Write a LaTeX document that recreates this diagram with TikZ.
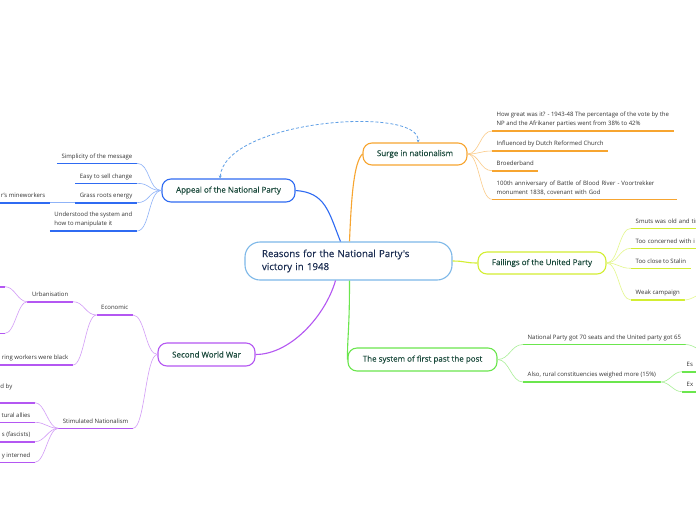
\documentclass[tikz,border=0pt]{standalone}
\usepackage{fontspec}
\setmainfont{Open Sans}
\newfontfamily\semi{Open Sans}[FakeBold=0.35]
\usepackage{xcolor}
\usepackage{tikz}
\usetikzlibrary{arrows.meta}

\definecolor{npblue}{HTML}{2F6BF2}
\definecolor{npbluel}{HTML}{8FB3F8}
\definecolor{nporange}{HTML}{F7A530}
\definecolor{nporangel}{HTML}{FBCB88}
\definecolor{npyellow}{HTML}{D3EE32}
\definecolor{npyellowl}{HTML}{E4F78C}
\definecolor{npgreen}{HTML}{6BE64E}
\definecolor{npgreenl}{HTML}{A9EF97}
\definecolor{nppurple}{HTML}{B457F2}
\definecolor{nppurplel}{HTML}{D39DF7}
\definecolor{npcentre}{HTML}{7DB8E8}
\definecolor{npdash}{HTML}{5F9FE6}
\definecolor{nptitle}{HTML}{1C2E52}
\definecolor{nptopic}{HTML}{1B4A3C}
\definecolor{nptext}{HTML}{333333}

\begin{document}
\begin{tikzpicture}[x=1pt,y=-1pt,
  topic/.style={draw,line width=1.1pt,rounded corners=9pt,inner sep=0pt,text=nptopic,font=\semi\fontsize{8}{9}\selectfont},
  para/.style={inner xsep=4.5pt,inner ysep=3.5pt,text=nptext,align=left,font=\fontsize{6}{9}\selectfont},
  item/.style={para,text depth=1.5pt},
  ul/.style={line width=1.6pt},
  twig/.style={line width=0.6pt},
  limb/.style={line width=1.1pt}]
\path [fill=white,use as bounding box] (0,0) rectangle (696,520);
%
\node (c) at (348.5,261) [draw=npcentre,line width=1.1pt,rounded corners=15pt,minimum width=207pt,minimum height=38pt,text width=173pt,align=left,inner sep=0pt,text=nptitle,font=\semi\fontsize{9.7}{13}\selectfont] {Reasons for the National Party's\\victory in 1948};
%
\node (appeal) at (228.5,190.5) [topic,draw=npblue,minimum width=133pt,minimum height=23pt] {Appeal of the National Party};
\node (surge) at (415,154) [topic,draw=nporange,minimum width=104pt,minimum height=22pt] {Surge in nationalism};
\node (fail) at (542,263) [topic,draw=npyellow,minimum width=128pt,minimum height=22pt] {Failings of the United Party};
\node (fptp) at (422.5,359.5) [topic,draw=npgreen,minimum width=149pt,minimum height=23pt] {The system of first past the post};
\node (sww) at (206.5,354.5) [topic,draw=nppurple,minimum width=97pt,minimum height=23pt] {Second World War};
%
\draw [limb,npblue] (appeal.east) .. controls +(30,2) and +(-12,-30) .. ([xshift=-8pt]c.north);
\draw [limb,nporange] ([xshift=1pt]c.north) .. controls +(2,-50) and +(-8,8) .. (surge.west);
\draw [limb,npyellow] (c.east) .. controls +(13,0) and +(-13,0) .. (fail.west);
\draw [limb,npgreen] ([xshift=1pt]c.south) .. controls +(0,50) and +(0,-25) .. (fptp.west);
\draw [limb,nppurple] ([xshift=-13pt]c.south) .. controls +(-10,35) and +(35,0) .. (sww.east);
%%
\draw [npdash,line width=0.8pt,dash pattern=on 3pt off 2pt,{Stealth[length=3pt,width=3pt]}-{Stealth[length=3pt,width=3pt]}] ([xshift=-8.5pt]appeal.north) .. controls +(5,-59) and +(2,-37) .. ([xshift=3pt]surge.north);
%%
\node (a1) at (137,163.3) [item,anchor=south east] {Simplicity of the message};
\node (a2) at (137,183.3) [item,anchor=south east] {Easy to sell change};
\node (a3) at (137,202.7) [item,anchor=south east] {Grass roots energy};
\node (a4) at (137,231) [para,anchor=south east] {Understood the system and\\how to manipulate it};
\node (a5) at (50,202.7) [item,anchor=south east] {r's mineworkers};
%
\draw [ul,npblue] (a1.south west) -- (a1.south east);
\draw [ul,npblue] (a2.south west) -- (a2.south east);
\draw [ul,npblue] (a3.south west) -- (a3.south east);
\draw [ul,npblue] (a4.south west) -- (a4.south east);
\draw [ul,npblue] (a5.south west) -- (a5.south east);
\draw [twig,npbluel] (appeal.west) .. controls +(-13,0) and +(13,0) .. (a1.south east);
\draw [twig,npbluel] (appeal.west) .. controls +(-13,0) and +(13,0) .. (a2.south east);
\draw [twig,npbluel] (appeal.west) .. controls +(-13,0) and +(13,0) .. (a3.south east);
\draw [twig,npbluel] (appeal.west) .. controls +(-13,0) and +(13,0) .. (a4.south east);
\draw [twig,npbluel] (a3.south west) -- (a5.south east);
%%
\node (s1) at (492,131) [para,anchor=south west] {How great was it? - 1943-48 The percentage of the vote by the\\NP and the Afrikaner parties went from 38\% to 42\%};
\node (s2) at (492,151) [item,anchor=south west] {Influenced by Dutch Reformed Church};
\node (s3) at (492,170.7) [item,anchor=south west] {Broederband};
\node (s4) at (492,199.3) [para,anchor=south west,text width=176pt] {100th anniversary of Battle of Blood River - Voortrekker\\monument 1838, covenant with God};
%
\draw [ul,nporange] (s1.south west) -- (s1.south east);
\draw [ul,nporange] (s2.south west) -- (s2.south east);
\draw [ul,nporange] (s3.south west) -- (s3.south east);
\draw [ul,nporange] (s4.south west) -- (s4.south east);
\draw [twig,nporangel] (surge.east) .. controls +(12,0) and +(-12,0) .. (s1.south west);
\draw [twig,nporangel] (surge.east) .. controls +(12,0) and +(-12,0) .. (s2.south west);
\draw [twig,nporangel] (surge.east) .. controls +(12,0) and +(-12,0) .. (s3.south west);
\draw [twig,nporangel] (surge.east) .. controls +(12,0) and +(-12,0) .. (s4.south west);
%%
\node (f1) at (631,228.3) [item,anchor=south west,text width=75pt] {Smuts was old and tir};
\node (f2) at (631,248.3) [item,anchor=south west,text width=75pt] {Too concerned with i};
\node (f3) at (631,268.3) [item,anchor=south west] {Too close to Stalin};
\node (f4) at (631,300) [item,anchor=south west] {Weak campaign};
\coordinate (f4x) at (708,292);
%
\draw [ul,npyellow] (f1.south west) -- (f1.south east);
\draw [ul,npyellow] (f2.south west) -- (f2.south east);
\draw [ul,npyellow] (f3.south west) -- (f3.south east);
\draw [ul,npyellow] (f4.south west) -- (f4.south east);
\draw [twig,npyellowl] (fail.east) .. controls +(12,0) and +(-12,0) .. (f1.south west);
\draw [twig,npyellowl] (fail.east) .. controls +(12,0) and +(-12,0) .. (f2.south west);
\draw [twig,npyellowl] (fail.east) .. controls +(12,0) and +(-12,0) .. (f3.south west);
\draw [twig,npyellowl] (fail.east) .. controls +(12,0) and +(-12,0) .. (f4.south west);
\draw [twig,npyellowl] (f4.south east) .. controls +(8,0) and +(-8,0) .. (f4x);
%%
\node (p1) at (523,344.5) [item,anchor=south west] {National Party got 70 seats and the United party got 65};
\node (p2) at (523,382) [item,anchor=south west] {Also, rural constituencies weighed more (15\%)};
\node (e1) at (682,371.7) [item,anchor=south west,text width=40pt] {Es};
\node (e2) at (682,391.7) [item,anchor=south west,text width=40pt] {Ex};
\coordinate (p1x) at (708,352);
%
\draw [ul,npgreen] (p1.south west) -- (p1.south east);
\draw [ul,npgreen] (p2.south west) -- (p2.south east);
\draw [ul,npgreen] (e1.south west) -- (e1.south east);
\draw [ul,npgreen] (e2.south west) -- (e2.south east);
\draw [twig,npgreenl] (fptp.east) .. controls +(12,0) and +(-12,0) .. (p1.south west);
\draw [twig,npgreenl] (fptp.east) .. controls +(12,0) and +(-12,0) .. (p2.south west);
\draw [twig,npgreenl] (p2.south east) .. controls +(9,0) and +(-9,0) .. (e1.south west);
\draw [twig,npgreenl] (p2.south east) .. controls +(9,0) and +(-9,0) .. (e2.south west);
\draw [twig,npgreenl] (p1.south east) .. controls +(8,0) and +(-8,0) .. (p1x);
%%
\node (w1) at (133,315) [item,anchor=south east] {Economic};
\node (w2) at (133,428.3) [item,anchor=south east] {Stimulated Nationalism};
\node (w11) at (73,301.7) [item,anchor=south east] {Urbanisation};
\node (w12) at (73,365) [item,anchor=south east] {ring workers were black};
\coordinate (u1) at (5,286.7);
\coordinate (u2) at (5,333.3);
\coordinate (g1) at (35,402.7);
\node (g1t) at (12.5,386.7) [item,anchor=east,inner sep=0pt] {d by};
\node (g2) at (35,422.3) [item,anchor=south east] {tural allies};
\node (g3) at (35,441.7) [item,anchor=south east] {s (fascists)};
\node (g4) at (35,462.3) [item,anchor=south east] {y interned};
%
\draw [ul,nppurple] (w1.south west) -- (w1.south east);
\draw [ul,nppurple] (w2.south west) -- (w2.south east);
\draw [ul,nppurple] (w11.south west) -- (w11.south east);
\draw [ul,nppurple] (w12.south west) -- (w12.south east);
\draw [ul,nppurple] (u1) -- ++(-10,0);
\draw [ul,nppurple] (u2) -- ++(-10,0);
\draw [ul,nppurple] (g1) -- ++(-40,0);
\draw [ul,nppurple] (g2.south west) -- (g2.south east);
\draw [ul,nppurple] (g3.south west) -- (g3.south east);
\draw [ul,nppurple] (g4.south west) -- (g4.south east);
\draw [twig,nppurplel] (sww.west) .. controls +(-12,0) and +(12,0) .. (w1.south east);
\draw [twig,nppurplel] (sww.west) .. controls +(-12,0) and +(12,0) .. (w2.south east);
\draw [twig,nppurplel] (w1.south west) .. controls +(-11,0) and +(11,0) .. (w11.south east);
\draw [twig,nppurplel] (w1.south west) .. controls +(-11,0) and +(11,0) .. (w12.south east);
\draw [twig,nppurplel] (w11.south west) .. controls +(-10,0) and +(10,0) .. (u1);
\draw [twig,nppurplel] (w11.south west) .. controls +(-10,0) and +(10,0) .. (u2);
\draw [twig,nppurplel] (w2.south west) .. controls +(-10,0) and +(10,0) .. (g1);
\draw [twig,nppurplel] (w2.south west) .. controls +(-10,0) and +(10,0) .. (g2.south east);
\draw [twig,nppurplel] (w2.south west) .. controls +(-10,0) and +(10,0) .. (g3.south east);
\draw [twig,nppurplel] (w2.south west) .. controls +(-10,0) and +(10,0) .. (g4.south east);
\end{tikzpicture}
\end{document}
